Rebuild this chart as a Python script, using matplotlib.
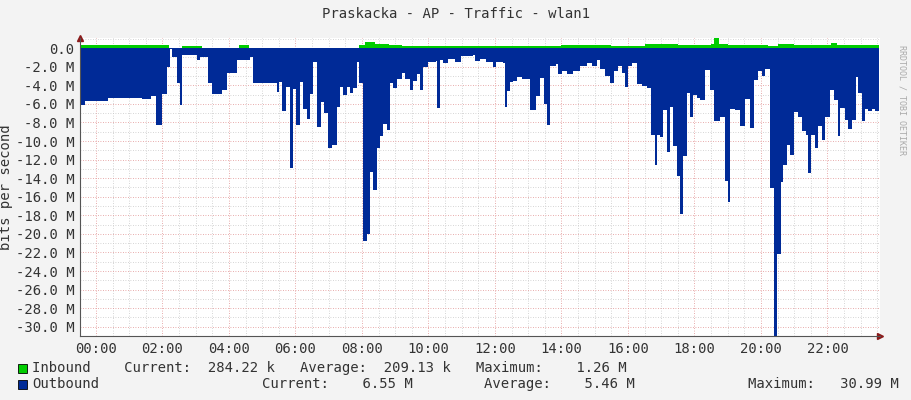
import numpy as np
import matplotlib.pyplot as plt

# outbound traffic breakpoints (hour, Mbit/s) - drawn as negative
out_hours = [-0.47, -0.33, 0.37, 1.37, 1.67, 1.82, 2.0, 2.13, 2.23, 2.30, 2.43, 2.54, 2.60, 3.03, 3.13,
             3.36, 3.50, 3.78, 3.93, 4.23, 4.63, 4.71, 5.43, 5.50, 5.61, 5.73, 5.83, 5.93, 6.03, 6.15,
             6.23, 6.34, 6.44, 6.54, 6.64, 6.77, 6.87, 6.97, 7.11, 7.24, 7.34, 7.44, 7.54, 7.64, 7.74,
             7.84, 7.92, 8.02, 8.14, 8.24, 8.34, 8.44, 8.54, 8.64, 8.74, 8.84, 8.94, 9.06, 9.19, 9.29,
             9.44, 9.54, 9.66, 9.74, 9.84, 9.99, 10.24, 10.27, 10.34, 10.44, 10.59, 10.79, 10.99, 11.34,
             11.39, 11.54, 11.74, 11.94, 12.04, 12.24, 12.30, 12.37, 12.45, 12.55, 12.65, 12.80, 13.05,
             13.23, 13.35, 13.47, 13.57, 13.65, 13.85, 13.91, 14.01, 14.16, 14.36, 14.56, 14.76, 14.91,
             15.06, 15.16, 15.31, 15.46, 15.58, 15.71, 15.81, 15.91, 16.01, 16.11, 16.26, 16.41, 16.56,
             16.68, 16.81, 16.86, 16.96, 17.06, 17.18, 17.26, 17.36, 17.46, 17.56, 17.66, 17.78, 17.88,
             17.96, 18.08, 18.18, 18.31, 18.46, 18.59, 18.77, 18.92, 19.00, 19.07, 19.22, 19.37, 19.52,
             19.67, 19.79, 19.92, 20.02, 20.12, 20.27, 20.40, 20.49, 20.59, 20.67, 20.78, 20.88, 20.98,
             21.10, 21.22, 21.35, 21.42, 21.50, 21.62, 21.73, 21.83, 21.93, 22.08, 22.20, 22.31, 22.38,
             22.53, 22.63, 22.73, 22.86, 22.93, 23.03, 23.13, 23.23, 23.33, 23.43, 23.54]
out_mbps = [6.1, 5.7, 5.4, 5.5, 5.1, 8.3, 4.9, 2.0, 0.1, 0.9, 3.8, 6.1, 0.75, 1.3, 0.9,
            3.8, 4.9, 4.5, 2.7, 1.3, 0.9, 3.8, 4.7, 3.6, 6.8, 4.2, 12.9, 4.4, 8.3, 3.6,
            6.5, 7.6, 4.9, 1.5, 8.5, 5.8, 7.0, 10.8, 10.4, 6.3, 4.2, 5.0, 4.2, 4.8, 4.3,
            1.5, 3.8, 20.8, 20.0, 13.3, 15.3, 10.8, 9.5, 8.2, 8.8, 3.7, 4.3, 3.3, 2.7, 3.3,
            4.5, 3.5, 2.8, 4.5, 2.0, 1.5, 1.4, 6.4, 1.3, 1.6, 1.2, 1.5, 0.8, 0.7,
            1.4, 1.2, 1.5, 2.0, 1.5, 1.6, 6.3, 4.6, 3.6, 3.5, 3.1, 3.3, 6.7,
            5.2, 3.2, 6.0, 8.3, 1.9, 1.7, 2.8, 2.5, 2.8, 2.5, 1.9, 1.6, 1.9,
            1.3, 2.2, 3.0, 3.8, 2.5, 1.9, 2.7, 4.2, 1.9, 1.6, 3.9, 4.1, 4.3,
            9.4, 12.6, 9.4, 9.6, 6.7, 11.2, 6.3, 10.5, 13.8, 17.9, 11.6, 4.8, 7.4,
            5.0, 5.4, 5.6, 2.4, 4.5, 7.8, 7.4, 14.3, 16.6, 6.6, 6.7, 8.4, 5.5,
            8.6, 3.4, 2.5, 3.0, 2.2, 15.1, 31.0, 22.2, 14.4, 12.6, 10.4, 11.5, 6.9,
            7.4, 8.9, 9.4, 13.4, 9.4, 10.8, 8.4, 9.9, 7.4, 4.5, 5.6, 9.5, 6.4,
            7.7, 8.7, 7.7, 3.1, 4.8, 7.8, 6.5, 6.8, 6.6, 6.8, 6.8]

# inbound traffic breakpoints (hour, Mbit/s)
in_hours = [-0.47, 2.2, 2.6, 3.2, 4.3, 4.6, 7.9, 8.1, 8.4, 8.8, 9.2, 12.0, 14.0, 15.5,
            16.5, 17.5, 18.5, 18.6, 18.75, 19.0, 20.2, 20.5, 21.0, 22.0, 22.1, 22.3, 23.54]
in_mbps = [0.3, 0.05, 0.25, 0.05, 0.3, 0.05, 0.3, 0.7, 0.5, 0.35, 0.25, 0.25, 0.3, 0.25,
           0.45, 0.35, 0.45, 1.2, 0.5, 0.35, 0.25, 0.45, 0.3, 0.3, 0.6, 0.35, 0.35]

y_ticks = list(range(0, -31, -2))
x_ticks = list(range(0, 24, 2))

bg = '#f3f3f3'
plt.rcParams['font.family'] = 'DejaVu Sans Mono'
fig = plt.figure(figsize=(9.11, 4.0), dpi=100, facecolor=bg)
ax = fig.add_axes([80 / 911, 64 / 400, 800 / 911, 298 / 400])
ax.set_facecolor('white')

# grid
for h in np.arange(-0.5, 23.6, 0.5):
    if h % 2 == 0:
        ax.axvline(h, color='#e09090', lw=0.6, ls=(0, (1, 2)), zorder=1)
    else:
        ax.axvline(h, color='#c8c8c8', lw=0.6, ls=(0, (1, 2)), zorder=1)
for v in range(-31, 2):
    c = '#e09090' if v % 2 == 0 else '#c8c8c8'
    ax.axhline(v, color=c, lw=0.6, ls=(0, (1, 2)), zorder=1)

ax.fill_between(out_hours, [-v for v in out_mbps], 0, step='post', color='#002a97', lw=0, zorder=2)
ax.fill_between(in_hours, in_mbps, 0, step='post', color='#00cc00', lw=0, zorder=2)

ax.set_xlim(-0.48, 23.58)
ax.set_ylim(-31, 1.1)
ax.set_xticks(x_ticks)
ax.set_xticklabels(['%02d:00' % h for h in x_ticks], fontsize=10, color='#333333')
ax.set_yticks(y_ticks)
ax.set_yticklabels(['0.0' if t == 0 else '%.1f M' % t for t in y_ticks], fontsize=10, color='#333333')
ax.tick_params(length=0, pad=4)
for s in ['top', 'right']:
    ax.spines[s].set_visible(False)
for s in ['left', 'bottom']:
    ax.spines[s].set_color('#555555')
    ax.spines[s].set_linewidth(0.8)
ax.plot(1, 0, '>', transform=ax.transAxes, color='#8b1a1a', ms=4, clip_on=False)
ax.plot(0, 1, '^', transform=ax.transAxes, color='#8b1a1a', ms=4, clip_on=False)
ax.set_ylabel('bits per second', fontsize=10, color='#333333', labelpad=2)

fig.text(0.5, 1 - 14 / 400, 'Praskacka - AP - Traffic - wlan1', ha='center', va='center', fontsize=10, color='#333333')
fig.text(902 / 911, 0.75, 'RRDTOOL / TOBI OETIKER', rotation=270, ha='center', va='center', fontsize=6, color='#aaaaaa')

# legend
for y, c in [(368, '#00cc00'), (384, '#002a97')]:
    fig.patches.append(plt.Rectangle((18 / 911, 1 - (y + 5) / 400), 9 / 911, 9 / 400,
                                     transform=fig.transFigure, facecolor=c, edgecolor='black', lw=0.6))
fig.text(32 / 911, 1 - 368 / 400, 'Inbound    Current:  284.22 k   Average:  209.13 k   Maximum:    1.26 M',
         va='center', fontsize=10, color='#333333')
fig.text(32 / 911, 1 - 384 / 400, 'Outbound', va='center', fontsize=10, color='#333333')
fig.text(262 / 911, 1 - 384 / 400, 'Current:    6.55 M', va='center', fontsize=10, color='#333333')
fig.text(484 / 911, 1 - 384 / 400, 'Average:    5.46 M', va='center', fontsize=10, color='#333333')
fig.text(748 / 911, 1 - 384 / 400, 'Maximum:   30.99 M', va='center', fontsize=10, color='#333333')

fig.savefig('out.png', dpi=100, facecolor=bg)
